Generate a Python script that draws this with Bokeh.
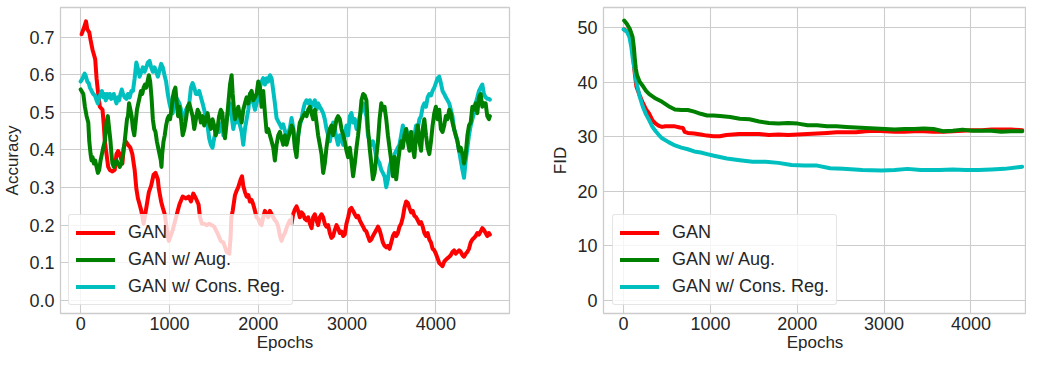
from bokeh.plotting import figure
from bokeh.models import Range1d, FixedTicker, Legend, LegendItem, PrintfTickFormatter
from bokeh.layouts import row
from bokeh.embed import file_html
from bokeh.resources import INLINE

# ---------------- Accuracy (left panel) ----------------
acc_gan_x = [11, 37, 60, 75, 97, 112, 134, 149, 164, 179,
             194, 216, 246, 261, 272, 291, 310, 328, 358, 384,
             403, 421, 440, 470, 485, 507, 533, 560, 582, 608,
             627, 645, 664, 683, 709, 739, 768, 794, 821, 843,
             869, 880, 906, 925, 947, 962, 981, 992, 1037, 1074,
             1112, 1149, 1186, 1216, 1242, 1268, 1298, 1328, 1343, 1365,
             1391, 1417, 1447, 1477, 1503, 1540, 1578,
             1607, 1644, 1674, 1689, 1697, 1712, 1738, 1757, 1775, 1802,
             1817, 1831, 1850, 1869, 1888, 1906, 1925, 1944, 1963, 1981,
             2000, 2019, 2037, 2056, 2075, 2094, 2112, 2131, 2150, 2169,
             2187, 2206, 2225, 2244, 2262, 2281, 2300, 2318, 2337, 2356,
             2375, 2393, 2412, 2431, 2450, 2468, 2487, 2506, 2524, 2543,
             2562, 2581, 2600, 2618, 2637, 2656, 2674, 2693, 2712, 2731,
             2749, 2768, 2787, 2806, 2824, 2843, 2862, 2881, 2899, 2918,
             2937, 2956, 2974, 2993, 3012, 3031, 3049, 3068, 3087, 3106,
             3124, 3143, 3162, 3181, 3199, 3218,
             3235, 3254, 3273, 3291, 3310, 3329, 3348, 3366, 3385, 3403,
             3422, 3441, 3460, 3478, 3497, 3516, 3534, 3553, 3572, 3590,
             3609, 3628, 3646, 3665, 3684, 3702, 3721, 3740, 3758, 3777,
             3796, 3814, 3833, 3852, 3870, 3889, 3907, 3926, 3945, 3963,
             3982, 4000, 4019, 4038, 4056, 4075, 4094, 4112, 4131, 4150,
             4168, 4187, 4205, 4224, 4243, 4261, 4280, 4299, 4317, 4336,
             4355, 4373, 4392, 4411, 4429, 4448, 4467, 4485, 4504, 4523,
             4541, 4560, 4579, 4597, 4608]
acc_gan_y = [.708, .725, .742, .721, .713, .692, .666, .654, .641, .591,
             .557, .515, .507, .465, .423, .389, .355, .347, .343, .347,
             .389, .397, .389, .364, .406, .423, .414, .406, .389, .347,
             .297, .271, .255, .238, .204, .246, .288, .305, .334, .339,
             .322, .297, .263, .246, .229, .204, .171, .158, .187, .221,
             .255, .276, .271, .276, .263, .284, .271, .255, .221, .204,
             .204, .200, .204, .200, .196, .179, .158,
             .154, .129, .124, .171, .221, .238, .280, .292, .301, .322,
             .330, .305, .288, .276, .280, .263, .267, .255, .238, .221,
             .217, .204, .200, .221, .238, .229, .221, .238, .229, .221,
             .213, .208, .196, .171, .158, .171, .179, .192, .204, .213,
             .204, .229, .242, .250, .238, .221, .234, .229, .217, .213,
             .221, .204, .192, .221, .229, .213, .200, .221, .229, .221,
             .204, .196, .200, .179, .166, .171, .187, .200, .192, .179,
             .183, .171, .175, .204, .221, .242, .246, .238, .229, .221,
             .225, .213, .204, .196, .187, .183,
             .171, .158, .162, .171, .179, .187, .196, .187, .171, .154,
             .145, .141, .145, .137, .154, .171, .179, .171, .179, .196,
             .204, .221, .246, .263, .259, .246, .234, .238, .225, .221,
             .213, .204, .208, .196, .179, .171, .179, .162, .154, .137,
             .133, .124, .112, .099, .095, .091, .103, .108, .112, .116,
             .120, .129, .133, .124, .129, .133, .129, .120, .116, .124,
             .129, .137, .154, .162, .166, .171, .179, .175, .183, .192,
             .187, .179, .171, .179, .175]

acc_aug_x = [0, 30, 48, 67, 86, 97, 112, 123, 134, 149,
             164, 179, 194, 209, 224, 239, 254, 272, 291, 306,
             321, 336, 347, 358, 373, 388, 403, 421, 440, 459,
             477, 496, 507, 522, 533, 545, 560, 574, 589, 604,
             619, 634, 649, 664, 679, 694, 709, 724, 739, 753,
             768, 783, 798, 813, 828, 843, 858, 873, 888, 903,
             910, 918, 933, 947, 962, 977, 992, 1007, 1022, 1037,
             1052, 1067, 1082, 1097, 1112, 1130, 1149, 1168, 1186, 1205,
             1223, 1242, 1261, 1279, 1298, 1317, 1335, 1354, 1373, 1391,
             1410, 1429, 1447, 1466, 1485, 1503, 1522, 1540, 1559, 1578,
             1596,
             1607, 1625, 1644, 1663, 1682, 1700, 1712, 1727, 1738, 1757,
             1775, 1794, 1813, 1831, 1850, 1869, 1888, 1906, 1925, 1944,
             1963, 1981, 2000, 2019, 2037, 2056, 2075, 2094, 2112, 2131,
             2150, 2169, 2187, 2206, 2225, 2244, 2262, 2281, 2300, 2318,
             2337, 2356, 2375, 2393, 2412, 2431, 2450, 2468, 2487, 2506,
             2524, 2543, 2562, 2581, 2600, 2618, 2637, 2656, 2674, 2693,
             2712, 2731, 2749, 2768, 2787, 2806, 2824, 2843, 2862, 2881,
             2899, 2918, 2937, 2956, 2974, 2993, 3012, 3031, 3049, 3068,
             3087, 3106, 3124, 3143, 3162, 3181, 3199, 3218,
             3235, 3254, 3273, 3291, 3310, 3329, 3348, 3366, 3385, 3403,
             3422, 3441, 3460, 3478, 3497, 3516, 3534, 3553, 3572, 3590,
             3609, 3628, 3646, 3665, 3684, 3702, 3721, 3740, 3758, 3777,
             3796, 3814, 3833, 3852, 3870, 3889, 3907, 3926, 3945, 3963,
             3982, 4000, 4019, 4038, 4056, 4075, 4094, 4112, 4131, 4150,
             4168, 4187, 4205, 4224, 4243, 4261, 4280, 4299, 4317, 4336,
             4355, 4373, 4392, 4411, 4429, 4448, 4467, 4485, 4504, 4523,
             4541, 4560, 4579, 4597, 4608]
acc_aug_y = [.561, .549, .515, .490, .473, .423, .389, .372, .381, .364,
             .372, .355, .339, .347, .372, .389, .406, .423, .473, .490,
             .456, .423, .389, .364, .355, .364, .372, .364, .355, .364,
             .389, .423, .448, .482, .490, .524, .507, .490, .456, .439,
             .473, .507, .524, .540, .557, .549, .566, .574, .566, .582,
             .599, .582, .540, .482, .456, .448, .423, .406, .389, .372,
             .355, .389, .423, .439, .465, .482, .490, .482, .507, .540,
             .557, .566, .524, .490, .515, .482, .439, .456, .482, .515,
             .524, .507, .490, .456, .482, .507, .498, .473, .490, .465,
             .482, .498, .473, .456, .482, .465, .439, .456, .490, .507,
             .498,
             .465, .431, .473, .524, .574, .599, .549, .507, .482, .498,
             .515, .490, .473, .507, .524, .540, .524, .549, .557, .532,
             .540, .549, .582, .566, .515, .557, .498, .448, .456, .439,
             .423, .406, .372, .414, .439, .448, .431, .414, .439, .414,
             .431, .448, .465, .456, .406, .381, .439, .473, .482, .490,
             .498, .490, .507, .515, .498, .482, .507, .473, .439, .414,
             .389, .339, .364, .406, .439, .456, .465, .439, .456, .482,
             .490, .482, .456, .439, .423, .398, .381, .406, .372, .330,
             .364, .406, .439, .482, .532, .549, .545, .532,
             .456, .406, .364, .322, .339, .381, .423, .482, .524, .507,
             .515, .482, .439, .406, .372, .330, .381, .322, .364, .398,
             .423, .406, .439, .456, .423, .398, .448, .406, .381, .439,
             .465, .423, .398, .456, .482, .439, .406, .389, .423, .465,
             .498, .515, .482, .507, .456, .448, .465, .490, .482, .507,
             .498, .473, .456, .439, .423, .398, .406, .389, .364, .389,
             .439, .465, .473, .515, .507, .524, .498, .540, .549, .515,
             .524, .524, .490, .482, .490]

acc_cr_x = [0, 22, 45, 60, 75, 90, 104, 123, 142, 160,
            179, 194, 209, 224, 239, 254, 269, 283, 298, 313,
            328, 343, 358, 373, 388, 403, 418, 433, 448, 463,
            477, 496, 515, 533, 552, 571, 589, 608, 627, 645,
            664, 683, 701, 720, 739, 757, 776, 794, 813, 832,
            850, 869, 888, 906, 925, 944, 962, 981, 1000, 1018,
            1037, 1056, 1074, 1093, 1112, 1130, 1149, 1168, 1186, 1205,
            1223, 1242, 1261, 1279, 1298, 1317, 1335, 1354, 1373, 1391,
            1410, 1429, 1447, 1466, 1485, 1503, 1522, 1540, 1559, 1578,
            1596,
            1607, 1625, 1644, 1663, 1682, 1700, 1719, 1738, 1757, 1775,
            1794, 1813, 1831, 1850, 1869, 1888, 1906, 1925, 1944, 1963,
            1981, 2000, 2019, 2037, 2056, 2075, 2094, 2112, 2131, 2150,
            2169, 2187, 2206, 2225, 2244, 2262, 2281, 2300, 2318, 2337,
            2356, 2375, 2393, 2412, 2431, 2450, 2468, 2487, 2506, 2524,
            2543, 2562, 2581, 2600, 2618, 2637, 2656, 2674, 2693, 2712,
            2731, 2749, 2768, 2787, 2806, 2824, 2843, 2862, 2881, 2899,
            2918, 2937, 2956, 2974, 2993, 3012, 3031, 3049, 3068, 3087,
            3106, 3124, 3143, 3162, 3181, 3199, 3218,
            3235, 3254, 3273, 3291, 3310, 3329, 3348, 3366, 3385, 3403,
            3422, 3441, 3460, 3478, 3497, 3516, 3534, 3553, 3572, 3590,
            3609, 3628, 3646, 3665, 3684, 3702, 3721, 3740, 3758, 3777,
            3796, 3814, 3833, 3852, 3870, 3889, 3907, 3926, 3945, 3963,
            3982, 4000, 4019, 4038, 4056, 4075, 4094, 4112, 4131, 4150,
            4168, 4187, 4205, 4224, 4243, 4261, 4280, 4299, 4317, 4336,
            4355, 4373, 4392, 4411, 4429, 4448, 4467, 4485, 4504, 4523,
            4541, 4560, 4579, 4597, 4608]
acc_cr_y = [.582, .591, .603, .595, .582, .578, .566, .557, .549, .545,
            .532, .524, .540, .549, .557, .540, .549, .532, .549, .540,
            .549, .536, .540, .549, .536, .524, .540, .532, .549, .561,
            .549, .540, .536, .549, .540, .557, .557, .591, .633, .616,
            .595, .608, .620, .608, .620, .633, .637, .620, .608, .620,
            .608, .595, .612, .629, .620, .599, .582, .549, .524, .507,
            .498, .524, .540, .532, .524, .507, .490, .482, .507, .515,
            .524, .566, .578, .566, .549, .549, .557, .540, .524, .507,
            .490, .465, .431, .414, .406, .431, .448, .456, .448, .465,
            .473,
            .439, .465, .482, .507, .524, .490, .456, .482, .473, .507,
            .465, .448, .414, .456, .482, .507, .549, .532, .524, .507,
            .524, .549, .566, .582, .591, .574, .591, .582, .599, .591,
            .557, .524, .485, .476, .468, .459, .468, .451, .434, .443,
            .459, .485, .459, .418, .401, .439, .465, .482, .507, .524,
            .532, .524, .532, .515, .524, .532, .507, .524, .515, .507,
            .498, .482, .456, .439, .423, .448, .473, .456, .431, .414,
            .439, .431, .414, .439, .465, .439, .490, .498, .473, .482,
            .456, .465, .490, .507, .524, .507, .490,
            .439, .423, .414, .423, .406, .381, .372, .364, .347, .339,
            .330, .301, .322, .355, .372, .347, .389, .397, .406, .414,
            .439, .465, .439, .456, .439, .431, .448, .423, .439, .465,
            .456, .482, .490, .515, .524, .515, .540, .549, .545, .557,
            .566, .578, .591, .595, .578, .557, .549, .540, .532, .524,
            .507, .490, .456, .439, .423, .398, .372, .347, .326, .372,
            .406, .439, .465, .482, .498, .524, .540, .557, .566, .574,
            .549, .540, .536, .536, .534]

# ---------------- FID (right panel) ----------------
fid_gan_x = [7, 56, 93, 111, 130, 148, 185, 222, 259, 296,
             333, 370, 407, 444, 481, 518, 555, 592, 648, 684,
             703, 740, 814, 888, 962, 1036, 1110, 1184, 1258, 1332,
             1376, 1450, 1561, 1673, 1784, 1896, 2007, 2119, 2230, 2342,
             2453, 2565, 2676, 2788, 2900, 3011, 3123, 3234, 3346, 3457,
             3569, 3680, 3792, 3903, 4015, 4126, 4238, 4349, 4461, 4591]
fid_gan_y = [49.7, 49.1, 47.7, 44.5, 41.5, 39.2, 37.6, 36.2, 35.0, 34.2,
             33.0, 32.4, 32.0, 31.8, 31.9, 31.9, 31.9, 31.9, 31.7, 31.6,
             30.9, 30.7, 30.6, 30.4, 30.2, 30.1, 30.1, 30.3, 30.4, 30.5,
             30.5, 30.5, 30.5, 30.3, 30.4, 30.3, 30.4, 30.5, 30.6, 30.7,
             30.8, 30.8, 30.8, 31.0, 31.1, 31.0, 30.9, 30.9, 31.0, 31.0,
             30.9, 30.9, 31.0, 31.1, 31.2, 31.2, 31.3, 31.3, 31.3, 31.2]

fid_aug_x = [7, 37, 74, 104, 118, 130, 141, 155, 185, 222,
             259, 296, 370, 444, 518, 592, 666, 740, 814, 888,
             962, 1036, 1110, 1227, 1338, 1450, 1561, 1673, 1784, 1896,
             2007, 2119, 2230, 2342, 2453, 2565, 2676, 2788, 2900, 3011,
             3123, 3234, 3346, 3457, 3569, 3680, 3792, 3903, 4015, 4126,
             4238, 4349, 4461, 4591]
fid_aug_y = [51.3, 50.7, 49.7, 48.3, 46.5, 44.2, 42.5, 41.3, 40.1, 39.3,
             38.4, 37.8, 37.0, 36.4, 35.6, 35.0, 34.9, 34.9, 34.6, 34.2,
             33.9, 33.9, 33.8, 33.6, 33.3, 33.2, 32.8, 32.5, 32.4, 32.5,
             32.4, 32.1, 32.1, 31.9, 31.9, 31.8, 31.7, 31.6, 31.5, 31.4,
             31.3, 31.4, 31.4, 31.5, 31.4, 31.0, 31.1, 31.3, 31.1, 31.1,
             31.1, 30.9, 31.0, 31.0]

fid_cr_x = [0, 37, 67, 89, 104, 130, 148, 185, 222, 259,
            296, 333, 370, 407, 444, 518, 592, 666, 740, 814,
            888, 962, 1041, 1189, 1338, 1487, 1635, 1784, 1933, 2081,
            2230, 2378, 2527, 2750, 2973, 3122, 3270, 3419, 3642, 3790,
            3939, 4088, 4237, 4385, 4590]
fid_cr_y = [49.7, 49.3, 48.3, 46.5, 44.6, 42.0, 40.0, 37.4, 35.5, 34.1,
            33.0, 31.8, 31.0, 30.3, 29.7, 29.0, 28.4, 28.0, 27.7, 27.3,
            27.1, 26.8, 26.5, 26.0, 25.7, 25.4, 25.4, 25.2, 24.8, 24.7,
            24.7, 24.2, 24.1, 23.9, 23.8, 23.9, 24.1, 23.9, 23.9, 24.0,
            23.9, 23.9, 24.0, 24.1, 24.5]

labels = ["GAN", "GAN w/ Aug.", "GAN w/ Cons. Reg."]
colors = ["#ff0000", "#008000", "#00bfbf"]
x_ticks = [0, 1000, 2000, 3000, 4000]
acc_ticks = [0.0, 0.1, 0.2, 0.3, 0.4, 0.5, 0.6, 0.7]
fid_ticks = [0, 10, 20, 30, 40, 50]

FONT = "Liberation Sans"
TXT = "#262626"
GRID = "#cccccc"
H = 354
TOP = 7


def make_fig(width, min_left, min_right, xr, yr, ylabel, yticks, yfmt):
    p = figure(width=width, height=H, output_backend="svg", toolbar_location=None,
               x_range=Range1d(*xr), y_range=Range1d(*yr),
               min_border_left=min_left, min_border_right=min_right,
               min_border_top=TOP, min_border_bottom=0)
    p.background_fill_color = "white"
    p.border_fill_color = "white"
    p.outline_line_color = GRID
    p.outline_line_width = 1.3
    p.xaxis.ticker = FixedTicker(ticks=x_ticks)
    p.xaxis.formatter = PrintfTickFormatter(format="%d")
    p.yaxis.ticker = FixedTicker(ticks=yticks)
    p.yaxis.formatter = PrintfTickFormatter(format=yfmt)
    p.xaxis.axis_label = "Epochs"
    p.yaxis.axis_label = ylabel
    for ax in (p.xaxis[0], p.yaxis[0]):
        ax.axis_line_color = None
        ax.major_tick_line_color = None
        ax.minor_tick_line_color = None
        ax.major_tick_out = 0
        ax.major_tick_in = 0
        ax.minor_tick_out = 0
        ax.minor_tick_in = 0
        ax.major_label_text_font = FONT
        ax.major_label_text_font_size = "18px"
        ax.major_label_text_color = TXT
        ax.axis_label_text_font = FONT
        ax.axis_label_text_font_size = "17px"
        ax.axis_label_text_font_style = "normal"
        ax.axis_label_text_color = TXT
    p.xaxis.major_label_standoff = 3
    p.xaxis.axis_label_standoff = 0
    p.yaxis.major_label_standoff = 6
    p.yaxis.axis_label_standoff = 4
    p.xgrid.grid_line_color = GRID
    p.ygrid.grid_line_color = GRID
    p.xgrid.grid_line_width = 1.1
    p.ygrid.grid_line_width = 1.1
    return p


def add_series(p, xs_list, ys_list, loc):
    rends = {}
    # drawing order: GAN, Cons. Reg., Aug.
    for i in (0, 2, 1):
        rends[i] = p.line(xs_list[i], ys_list[i], line_color=colors[i], line_width=4,
                          line_join="round", line_cap="round")
    items = [LegendItem(label=labels[i], renderers=[rends[i]]) for i in range(3)]
    leg = Legend(items=items, location=loc)
    leg.label_text_font = FONT
    leg.label_text_font_size = "18px"
    leg.label_text_color = TXT
    leg.glyph_width = 39
    leg.glyph_height = 19
    leg.label_height = 19
    leg.label_standoff = 13
    leg.spacing = 6
    leg.padding = 7
    leg.margin = 0
    leg.border_line_color = GRID
    leg.border_line_width = 1
    leg.background_fill_color = "white"
    leg.background_fill_alpha = 0.8
    if "border_radius" in Legend.properties():
        leg.border_radius = 3
    p.add_layout(leg)


W1 = 548
W2 = 478
p1 = make_fig(W1, 57, W1 - 509, (-227, 4829), (-0.035, 0.779), "Accuracy", acc_ticks, "%.1f")
add_series(p1, [acc_gan_x, acc_aug_x, acc_cr_x], [acc_gan_y, acc_aug_y, acc_cr_y], (8, 8))

p2 = make_fig(W2, 599 - W1, 0, (-231, 4640), (-2.43, 53.7), "FID", fid_ticks, "%d")
add_series(p2, [fid_gan_x, fid_aug_x, fid_cr_x], [fid_gan_y, fid_aug_y, fid_cr_y], (9, 8))

layout = row(p1, p2)
open("out.html", "w").write(file_html(layout, INLINE))
